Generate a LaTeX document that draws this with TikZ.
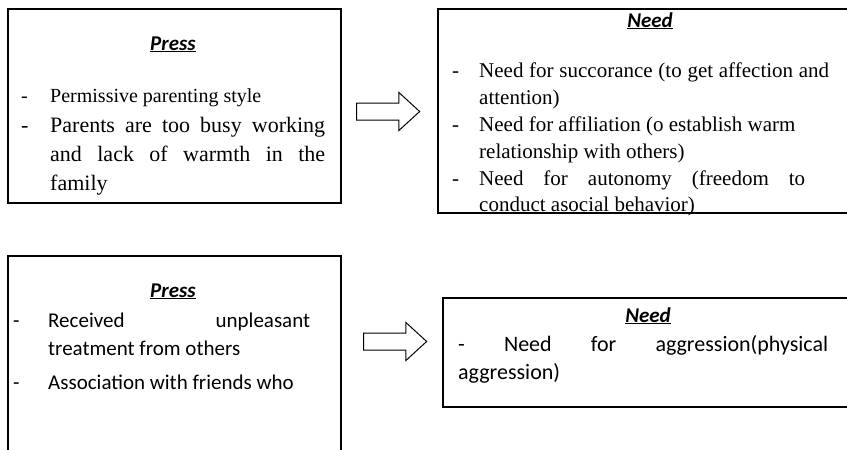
\documentclass[tikz,border=0pt]{standalone}
\usepackage{fontspec}
\setmainfont{Liberation Serif}
\newfontfamily\calibri{Carlito}
\usetikzlibrary{shapes.arrows, positioning}
\hyphenpenalty=10000
\exhyphenpenalty=10000
\tolerance=10000

\newcommand{\heading}[1]{\underline{\textbf{\textit{#1}}}}

\begin{document}
\begin{tikzpicture}[x=1pt, y=-1pt,
    box/.style = {draw, line width=1.6pt, anchor=north west, inner sep=0pt},
    title/.style = {anchor=base, inner sep=0pt, font=\calibri\fontsize{21}{25}\selectfont},
    item/.style = {anchor=base west, inner sep=0pt, align=justify},
    line/.style = {anchor=base west, inner sep=0pt},
    bigarrow/.style = {draw, single arrow, line width=1pt, inner sep=8pt,
        minimum width=37pt, single arrow head extend=10.5pt, single arrow tip angle=85}]
    \useasboundingbox (0,0) rectangle (847,450);
    \clip (0,0) rectangle (847,450);

    % boxes
    \node (press1) [box, minimum width=333pt, minimum height=194pt] at (7,8) {};
    \node (need1) [box, minimum width=420pt, minimum height=204pt] at (437,8) {};
    \node (press2) [box, minimum width=333pt, minimum height=210pt] at (7,255) {};
    \node (need2) [box, minimum width=420pt, minimum height=109pt] at (442,297) {};

    % block arrows
    \node (arr1) [bigarrow, minimum height=63pt] at (383.5,111.5) {};
    \node (arr2) [bigarrow, minimum height=63pt] at (390.5,341.5) {};

    % top left
    \node (t1) [title] at (173,50) {\heading{Press}};
    \node (d11) [line, font=\fontsize{20}{24}\selectfont] at (21,102) {-};
    \node (p11) [line, font=\fontsize{20}{24}\selectfont] at (50,102) {Permissive parenting style};
    \node (d12) [line, font=\fontsize{22}{29}\selectfont] at (21,132) {-};
    \node (p12) [item, text width=275pt, font=\fontsize{22}{29}\selectfont] at (50,132)
        {Parents are too busy working\linebreak and lack of warmth in the\linebreak family};

    % top right
    \node (t2) [title] at (650,27) {\heading{Need}};
    \node (d21) [line, font=\fontsize{21}{27}\selectfont] at (452,77) {-};
    \node (n21) [item, text width=350pt, font=\fontsize{21}{27}\selectfont] at (479,77)
        {Need for succorance (to get affection and\linebreak attention)};
    \node (d22) [line, font=\fontsize{21}{27}\selectfont] at (452,131) {-};
    \node (n22) [item, text width=350pt, font=\fontsize{21}{27}\selectfont] at (479,131)
        {Need for affiliation (o establish warm\newline relationship with others)};
    \node (d23) [line, font=\fontsize{21}{26}\selectfont] at (452,185) {-};
    \node (n23) [item, text width=326pt, font=\fontsize{21}{26}\selectfont] at (479,185)
        {Need for autonomy (freedom to\linebreak conduct asocial behavior)};

    % bottom left
    \node (t3) [title] at (173,297) {\heading{Press}};
    \node (d31) [line, font=\calibri\fontsize{21}{28}\selectfont] at (13,327) {-};
    \node (p31) [item, text width=262pt, font=\calibri\fontsize{21}{28}\selectfont] at (48,327)
        {Received unpleasant\linebreak treatment from others};
    \node (d32) [line, font=\calibri\fontsize{21}{28}\selectfont] at (13,389) {-};
    \node (p32) [line, font=\calibri\fontsize{21}{28}\selectfont] at (48,389)
        {Association with friends who};

    % bottom right
    \node (t4) [title] at (648,322) {\heading{Need}};
    \node (n41) [item, text width=370pt, font=\calibri\fontsize{22}{28}\selectfont] at (458,351)
        {- Need for aggression(physical\linebreak aggression)};
\end{tikzpicture}
\end{document}
